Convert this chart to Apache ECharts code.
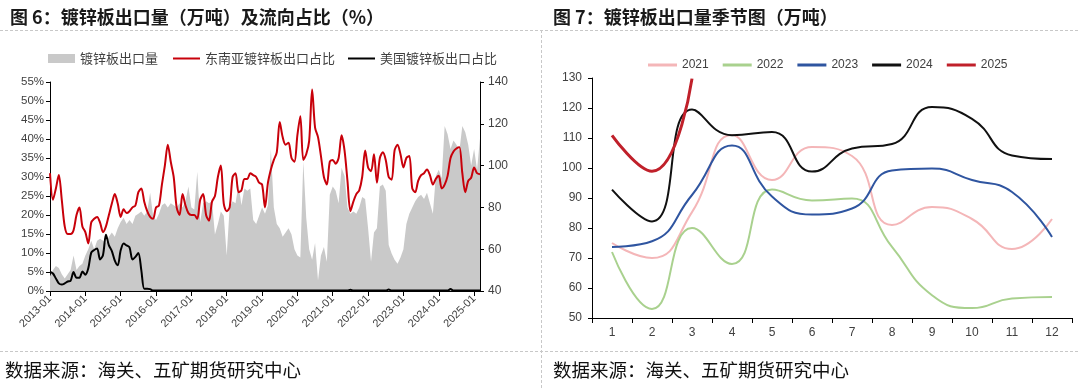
<!DOCTYPE html>
<html>
<head>
<meta charset="utf-8">
<script src="https://cdn.jsdelivr.net/npm/echarts@6/dist/echarts.min.js"></script>
<style>
html,body{margin:0;padding:0;background:#fff;}
#c{width:1080px;height:388px;}
</style>
</head>
<body>
<div id="c"></div>
<script>
// ---------- Chart 6 data (monthly, 2013-01 .. 2025-03) ----------
var startYear = 2013;
var monthCount = 147;
var months = [];
for (var i = 0; i < monthCount; i++) {
  var y = startYear + Math.floor(i / 12), m = (i % 12) + 1;
  months.push(y + '-' + (m < 10 ? '0' + m : m));
}
// export volume (万吨), right axis
var exportVolume = [47,50,52,51,48,46,48,50,57,50,52,53,57,60,64,60,64,65,64,63,66,68,66,70,73,75,72,74,72,76,77,78,76,78,87,76,74,77,81,82,80,82,81,80,82,80,83,90,80,79,97,73,82,83,82,83,67,72,78,76,57,80,83,82,91,81,89,88,89,74,72,76,80,77,81,108,80,72,70,66,68,70,67,60,57,56,102,75,60,55,63,45,57,61,54,86,90,88,82,99,95,80,77,78,77,80,85,84,70,54,68,70,90,91,88,62,58,55,53,56,60,72,77,80,83,85,86,84,87,82,77,95,98,94,119,115,108,112,110,107,119,116,110,100,108,98,113];
// share to Southeast Asia (%)
var seaShare = [31,24,27,30.5,24,17,15,15,16,20,22,17,15.5,12.5,18,19,19.5,18,15.5,17,20,23,25.5,23,19.5,21.5,20.5,21,22,22.5,26,27,23.5,21,19.5,19,22,22.5,28,33,38.5,34,30,22,20,25.5,22.5,20.5,20,20,19,24,25.5,20,18.5,23.5,25,30,33,23,21,22,30,31,26,26.5,29.5,29.5,31,30.5,30,28.5,28,22,28.5,32,34.5,36.5,44.5,40.5,38.5,39,35,34,41,46,34.5,36,39.5,53,43,40.5,35.5,30,28,34,34.5,33.5,35,41,37,29,21,23.5,25.5,26.5,30,37,32.5,31.5,36,28.5,35,36.5,34.5,30,29.3,37,38.5,36,32.5,35,35.5,27,26,29,30.5,31,32,30.5,28,29.5,30.3,27,28,30.3,35,36.7,37.5,37.8,31,26,29,29.8,32.5,31,30.7];
// share to USA (%)
var usShare = [5.1,4.6,3.3,2,1.7,2,2.5,2.7,5,3.5,3.5,5.1,4.3,6,10.1,10.8,11.2,8.3,9.5,14.8,12,10.5,8,6.8,10.7,12.5,12,11.5,8.3,9,10,5.5,0.6,0.6,0.5,0.1,0.1,0.1,0.1,0.1,0.1,0.1,0.1,0.1,0.1,0.1,0.1,0.1,0.1,0.1,0.1,0.1,0.1,0.1,0.1,0.1,0.1,0.1,0.1,0.1,0.1,0.1,0.1,0.1,0.1,0.1,0.1,0.1,0.1,0.1,0.1,0.1,0.1,0.1,0.1,0.1,0.1,0.1,0.1,0.1,0.1,0.1,0.1,0.1,0.1,0.1,0.1,0.1,0.1,0.1,0.1,0.1,0.1,0.1,0.1,0.1,0.1,0.1,0.1,0.1,0.1,0.1,0.3,0.1,0.1,0.1,0.1,0.1,0.1,0.1,0.1,0.1,0.1,0.1,0.1,0.4,0.1,0.1,0.1,0.1,0.1,0.1,0.1,0.1,0.1,0.1,0.1,0.1,0.1,0.1,0.1,0.1,0.1,0.1,0.1,0.1,0.5,0.1,0.1,0.1,0.1,0.1,0.1,0.1,0.1,0.1,0.1,0.1,0.9,0.4,0.1];
var leftTicks = [0, 55, 5];
var rightTicks = [40, 140, 20];

// ---------- Chart 7 data (seasonal, 万吨) ----------
var seasonMonths = ['1','2','3','4','5','6','7','8','9','10','11','12'];
var y2021 = [75,70,85.3,111,96,107,104,81,87,83,73,83];
var y2022 = [72,53,80,68,92.8,89.2,89.8,73.7,57.6,53.3,56.5,57];
var y2023 = [73.7,75.6,91,107.5,90.5,84.5,86.5,99.2,99.8,96,92,77];
var y2024 = [92.8,82.2,119.5,110.9,112,98.8,106.5,108,120.3,116.4,104.2,103];
var y2025 = [110.9,98.9,129.8];
var seasonTicks = [50, 130, 10];

var CJK = 'Noto Sans CJK SC';
var LAT = 'Liberation Sans';
var axisBlack = {lineStyle: {color: '#000', width: 1}};
var labelColor = '#404040';

var chart = echarts.init(document.getElementById('c'), null, {renderer: 'canvas'});

function dashLine(x1, y1, x2, y2) {
  return {type: 'line', silent: true, shape: {x1: x1, y1: y1, x2: x2, y2: y2},
    style: {stroke: '#c8c8c8', lineWidth: 1, lineDash: [3, 2]}};
}

var option = {
  animation: false,
  backgroundColor: '#fff',
  title: [
    {text: '图 6：镀锌板出口量（万吨）及流向占比（%）', left: 5, top: 3,
      textStyle: {fontFamily: CJK, fontSize: 18, fontWeight: 'bold', color: '#1a1a1a'}},
    {text: '图 7：镀锌板出口量季节图（万吨）', left: 548, top: 3,
      textStyle: {fontFamily: CJK, fontSize: 18, fontWeight: 'bold', color: '#1a1a1a'}}
  ],
  graphic: [
    dashLine(0, 30.5, 1080, 30.5),
    dashLine(0, 351.5, 1080, 351.5),
    dashLine(541.5, 30, 541.5, 388),
    {type: 'text', left: 5, top: 361, style: {text: '数据来源：海关、五矿期货研究中心', font: '18.5px "Noto Sans CJK SC"', fill: '#111'}},
    {type: 'text', left: 553, top: 361, style: {text: '数据来源：海关、五矿期货研究中心', font: '18.5px "Noto Sans CJK SC"', fill: '#111'}}
  ],
  legend: [
    {left: 43, top: 47, itemWidth: 27, itemHeight: 9, itemGap: 15,
      textStyle: {fontFamily: CJK, fontSize: 13, color: labelColor},
      data: [{name: '镀锌板出口量', icon: 'rect', itemStyle: {color: '#c9c9c9'}}]},
    {left: 168, top: 47, itemWidth: 27, itemHeight: 2, itemGap: 13, icon: 'rect',
      textStyle: {fontFamily: CJK, fontSize: 13, color: labelColor},
      data: ['东南亚镀锌板出口占比', '美国镀锌板出口占比']},
    {left: 643, top: 54, itemWidth: 29, itemHeight: 3, itemGap: 14, icon: 'rect',
      textStyle: {fontFamily: LAT, fontSize: 12, color: labelColor},
      data: ['2021', '2022', '2023', '2024', '2025']}
  ],
  grid: [
    {left: 50, top: 82, width: 430, height: 209},
    {left: 592, top: 78, width: 480, height: 240}
  ],
  xAxis: [
    {type: 'category', gridIndex: 0, data: months, boundaryGap: false,
      axisLine: axisBlack,
      axisTick: {show: true, length: 5, lineStyle: {color: '#000'}, interval: function (i) { return i % 12 === 0; }},
      axisLabel: {interval: function (i) { return i % 12 === 0; }, rotate: 45, margin: 6,
        fontFamily: LAT, fontSize: 11, color: labelColor},
      splitLine: {show: false}},
    {type: 'category', gridIndex: 1, data: seasonMonths, boundaryGap: true,
      axisLine: axisBlack,
      axisTick: {show: true, length: 5, lineStyle: {color: '#000'}},
      axisLabel: {margin: 9, fontFamily: LAT, fontSize: 12, color: labelColor},
      splitLine: {show: false}}
  ],
  yAxis: [
    {type: 'value', gridIndex: 0, position: 'left', min: leftTicks[0], max: leftTicks[1], interval: leftTicks[2],
      axisLine: {show: true, lineStyle: {color: '#000'}},
      axisTick: {show: true, length: 4, lineStyle: {color: '#000'}},
      axisLabel: {formatter: '{value}%', margin: 6, fontFamily: LAT, fontSize: 11.5, color: labelColor},
      splitLine: {show: false}},
    {type: 'value', gridIndex: 0, position: 'right', min: rightTicks[0], max: rightTicks[1], interval: rightTicks[2],
      axisLine: {show: true, lineStyle: {color: '#000'}},
      axisTick: {show: true, length: 4, lineStyle: {color: '#000'}},
      axisLabel: {margin: 8, fontFamily: LAT, fontSize: 12, color: labelColor},
      splitLine: {show: false}},
    {type: 'value', gridIndex: 1, min: seasonTicks[0], max: seasonTicks[1], interval: seasonTicks[2],
      axisLine: {show: true, lineStyle: {color: '#000'}},
      axisTick: {show: true, length: 4, lineStyle: {color: '#000'}},
      axisLabel: {margin: 10, fontFamily: LAT, fontSize: 12, color: labelColor},
      splitLine: {show: false}}
  ],
  series: [
    {name: '镀锌板出口量', type: 'line', xAxisIndex: 0, yAxisIndex: 1, data: exportVolume,
      symbol: 'none', lineStyle: {width: 0, color: '#c9c9c9'}, itemStyle: {color: '#c9c9c9'},
      areaStyle: {color: '#c9c9c9', opacity: 1, origin: 'start'}, z: 1},
    {name: '东南亚镀锌板出口占比', type: 'line', xAxisIndex: 0, yAxisIndex: 0, data: seaShare,
      symbol: 'none', smooth: 0.3, lineStyle: {width: 2, color: '#c8000a'}, itemStyle: {color: '#c8000a'}, z: 3},
    {name: '美国镀锌板出口占比', type: 'line', xAxisIndex: 0, yAxisIndex: 0, data: usShare,
      symbol: 'none', smooth: 0.3, lineStyle: {width: 2, color: '#000'}, itemStyle: {color: '#000'}, z: 4},

    {name: '2021', type: 'line', xAxisIndex: 1, yAxisIndex: 2, data: y2021, symbol: 'none', smooth: 0.5,
      lineStyle: {width: 2, color: '#f4b6b8'}, itemStyle: {color: '#f4b6b8'}},
    {name: '2022', type: 'line', xAxisIndex: 1, yAxisIndex: 2, data: y2022, symbol: 'none', smooth: 0.5,
      lineStyle: {width: 2, color: '#a9d18e'}, itemStyle: {color: '#a9d18e'}},
    {name: '2023', type: 'line', xAxisIndex: 1, yAxisIndex: 2, data: y2023, symbol: 'none', smooth: 0.5,
      lineStyle: {width: 2, color: '#2f55a0'}, itemStyle: {color: '#2f55a0'}},
    {name: '2024', type: 'line', xAxisIndex: 1, yAxisIndex: 2, data: y2024, symbol: 'none', smooth: 0.5,
      lineStyle: {width: 2, color: '#111'}, itemStyle: {color: '#111'}},
    {name: '2025', type: 'line', xAxisIndex: 1, yAxisIndex: 2, data: y2025, symbol: 'none', smooth: 0.5,
      lineStyle: {width: 3, color: '#c0202a'}, itemStyle: {color: '#c0202a'}, z: 5}
  ]
};
chart.setOption(option);
</script>
</body>
</html>
